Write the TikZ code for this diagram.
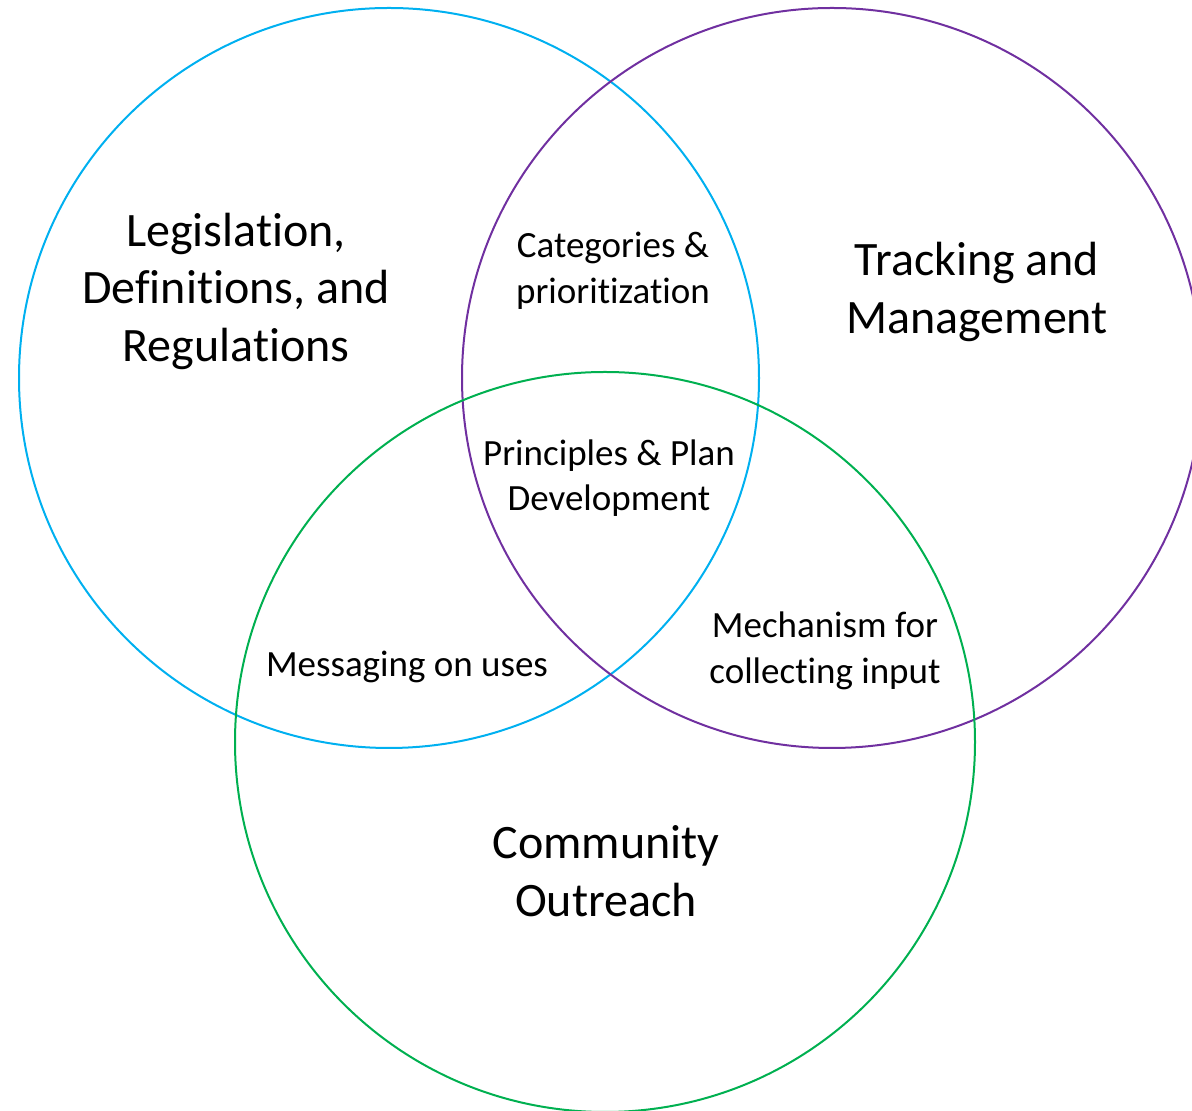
\documentclass[tikz,border=0pt]{standalone}
\usepackage{fontspec}
\setmainfont{Carlito}[Ligatures={NoCommon}]
\definecolor{vblue}{HTML}{00B0F0}
\definecolor{vpurple}{HTML}{7030A0}
\definecolor{vgreen}{HTML}{00B050}
\begin{document}
\begin{tikzpicture}[x=1pt,y=1pt,
  ring/.style={line width=2pt},
  big/.style={align=center,font=\fontsize{48}{57.5}\selectfont},
  small/.style={align=center,font=\fontsize{37}{45.5}\selectfont}]
\useasboundingbox (0,0) rectangle (1192,1111);
\clip (0,0) rectangle (1192,1111);
\draw[ring,vblue] (389,733) circle (370);
\draw[ring,vpurple] (832,733) circle (370);
\draw[ring,vgreen] (605,369) circle (370);
\node[big] (leg) at (236,820) {Legislation,\\Definitions, and\\Regulations};
\node[big] (trk) at (977,819) {Tracking and\\Management};
\node[big] (com) at (606,240) {Community\\Outreach};
\node[small] (cat) at (613,840) {Categories \&\\prioritization};
\node[small] (pri) at (609,633) {Principles \& Plan\\Development};
\node[small] (msg) at (407,444) {Messaging on uses};
\node[small] (mec) at (825,460) {Mechanism for\\collecting input};
\end{tikzpicture}
\end{document}
